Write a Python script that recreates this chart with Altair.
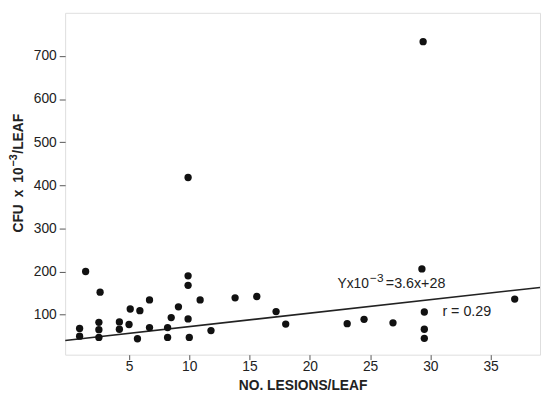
import altair as alt
import pandas as pd

# Data
lesions = [0.9, 0.9, 1.4, 2.5, 2.5, 2.5, 2.6, 4.2, 4.2, 5.0, 5.1, 5.7, 5.9,
           6.7, 6.7, 8.2, 8.2, 8.5, 9.1, 9.9, 9.9, 9.9, 9.9, 10.0, 10.9,
           11.8, 13.8, 15.6, 17.2, 18.0, 23.1, 24.5, 26.9, 29.3, 29.4,
           29.5, 29.5, 29.5, 37.0]
cfu = [68, 50, 200, 82, 65, 47, 152, 83, 66, 77, 113, 44, 109,
       134, 70, 70, 47, 93, 118, 418, 190, 168, 90, 47, 134,
       63, 139, 142, 107, 78, 79, 89, 81, 206, 733,
       106, 66, 45, 136]

# Regression line as drawn in the figure
fit_x = [-0.3, 39.1]
fit_y = [40, 163]

# Annotations (equation split into base text, superscript and remainder)
eq_x = [22.3]
eq_y = [171]
eq_base = ["Yx10"]
eq_sup = ["\u22123"]
eq_rest = ["=3.6x+28"]
r_x = [31.0]
r_y = [106]
r_text = ["r = 0.29"]

# Y axis title pieces
ytitle_base = ["CFU\u2002x\u200210"]
ytitle_sup = ["\u22123"]
ytitle_rest = ["/LEAF"]

x_ticks = [5, 10, 15, 20, 25, 30, 35]
y_ticks = [100, 200, 300, 400, 500, 600, 700]

pts = pd.DataFrame({"x": lesions, "y": cfu})
fit = pd.DataFrame({"x": fit_x, "y": fit_y})
eq = pd.DataFrame({"x": eq_x, "y": eq_y, "base": eq_base, "sup": eq_sup, "rest": eq_rest})
rr = pd.DataFrame({"x": r_x, "y": r_y, "t": r_text})
yt = pd.DataFrame({"base": ytitle_base, "sup": ytitle_sup, "rest": ytitle_rest})

FONT = "Liberation Sans"
INK = "#222"

xscale = alt.Scale(domain=[-0.3, 39.1], nice=False, zero=False)
yscale = alt.Scale(domain=[7, 800], nice=False, zero=False)

xaxis = alt.Axis(values=x_ticks, title="NO. LESIONS/LEAF", grid=False, domain=False,
                 tickSize=5, tickColor="#555", labelPadding=0, labelFontSize=14,
                 labelFont=FONT, labelColor=INK, titleFont=FONT, titleFontSize=14,
                 titleFontWeight="bold", titleColor=INK, titlePadding=5)
yaxis = alt.Axis(values=y_ticks, title=None, grid=False, domain=False,
                 tickSize=6, tickColor="#555", labelPadding=3, labelFontSize=14,
                 labelFont=FONT, labelColor=INK)

points = alt.Chart(pts).mark_circle(size=55, color="#111", opacity=1).encode(
    x=alt.X("x:Q", scale=xscale, axis=xaxis),
    y=alt.Y("y:Q", scale=yscale, axis=yaxis),
)

line = alt.Chart(fit).mark_line(color="#222", strokeWidth=1.6, clip=True).encode(
    x=alt.X("x:Q", scale=xscale),
    y=alt.Y("y:Q", scale=yscale),
)

def txt(df, field, **kw):
    return alt.Chart(df).mark_text(align="left", baseline="middle", font=FONT,
                                   color=INK, **kw).encode(
        x=alt.X("x:Q", scale=xscale),
        y=alt.Y("y:Q", scale=yscale),
        text=f"{field}:N",
    )

eq_base_t = txt(eq, "base", fontSize=14)
eq_sup_t = txt(eq, "sup", fontSize=12, dx=33, dy=-6)
eq_rest_t = txt(eq, "rest", fontSize=14.5, dx=49)
r_t = txt(rr, "t", fontSize=14.5)

def ytxt(field, **kw):
    return alt.Chart(yt).mark_text(align="left", baseline="middle", font=FONT,
                                   fontWeight="bold", color=INK, angle=270,
                                   **kw).encode(
        x=alt.value(-47), y=alt.value(223), text=f"{field}:N",
    )

yt_base = ytxt("base", fontSize=14)
yt_sup = ytxt("sup", fontSize=11, dx=67, dy=-5)
yt_rest = ytxt("rest", fontSize=14, dx=80)

chart = alt.layer(line, points, eq_base_t, eq_sup_t, eq_rest_t, r_t,
                  yt_base, yt_sup, yt_rest).properties(
    width=482, height=347,
    autosize=alt.AutoSizeParams(type="none"),
    padding={"left": 58, "top": 2, "right": 2, "bottom": 36},
).configure_view(stroke="#555", strokeWidth=1.5).configure(background="white")

chart.save("out.html", embed_options={"renderer": "svg", "actions": False})
